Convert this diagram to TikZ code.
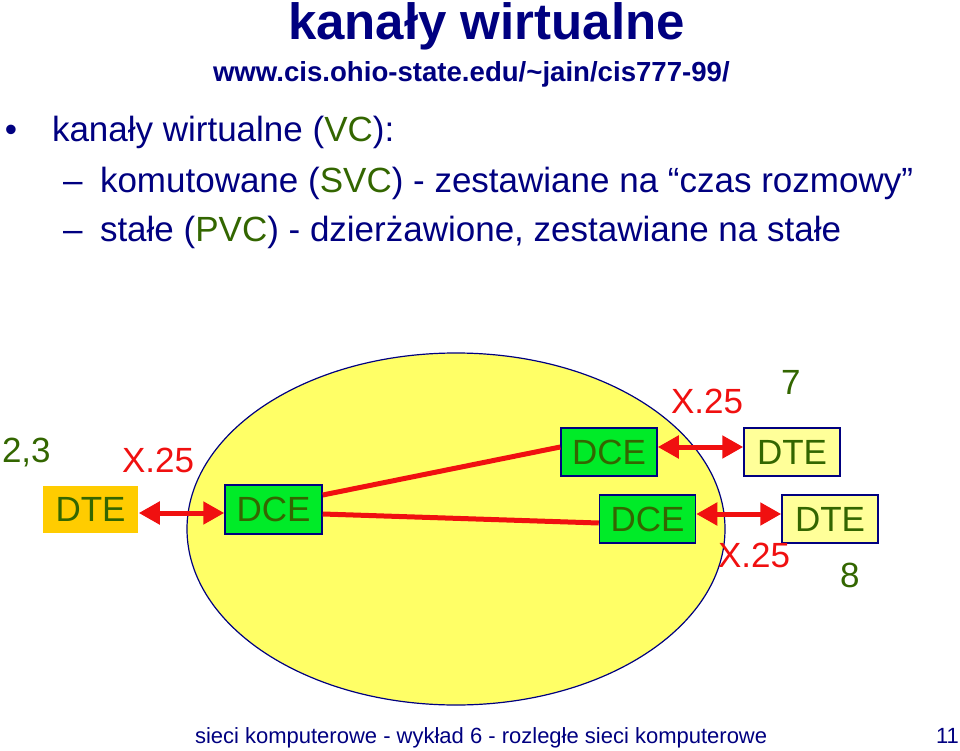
\documentclass[tikz,border=0pt]{standalone}
\usepackage{fontspec}
\setmainfont{Liberation Sans}
\usetikzlibrary{arrows.meta,shapes.geometric}
\definecolor{navy}{RGB}{0,0,128}
\definecolor{dkgreen}{RGB}{51,102,0}
\definecolor{xred}{RGB}{240,16,16}
\definecolor{boxgreen}{RGB}{0,235,40}
\definecolor{paleyellow}{RGB}{255,255,153}
\definecolor{orangeyellow}{RGB}{255,204,0}
\definecolor{ellyellow}{RGB}{255,255,102}
\newcommand\fsz[1]{\fontsize{#1}{#1}\selectfont}
\begin{document}
\begin{tikzpicture}[x=1pt,y=-1pt,
  txt/.style={anchor=base west, inner sep=0, outer sep=0, text=navy},
  box/.style={draw=navy, line width=1.5pt, minimum width=96pt, minimum height=48pt, inner sep=0, text=dkgreen, font=\fsz{35}},
  dcebox/.style={box, fill=boxgreen},
  dtebox/.style={box, fill=paleyellow},
  link/.style={xred, line width=5pt},
  biarrow/.style={link, {Triangle[length=21pt,width=22pt]}-{Triangle[length=21pt,width=22pt]}},
  lbl/.style={anchor=base west, inner sep=0, outer sep=0, font=\fsz{35}}
]
\useasboundingbox (0,0) rectangle (960,751);
% headings
\node[txt, font=\bfseries\fsz{51}] (title) at (288,40) {kanały wirtualne};
\node[txt, font=\bfseries\fsz{27.6}] (url) at (213,82) {www.cis.ohio-state.edu/\textasciitilde jain/cis777-99/};
% bullets
\node[txt, font=\fsz{35}] (b1) at (5,142) {•};
\node[txt, font=\fsz{35}] (l1) at (52,142) {kanały wirtualne (\textcolor{dkgreen}{VC}):};
\node[txt, font=\fsz{35}] (d2) at (63,193) {–};
\node[txt, font=\fsz{35}] (l2) at (100,193) {komutowane (\textcolor{dkgreen}{SVC}) - zestawiane na “czas rozmowy”};
\node[txt, font=\fsz{35}] (d3) at (63,241) {–};
\node[txt, font=\fsz{35}] (l3) at (100,241) {stałe (\textcolor{dkgreen}{PVC}) - dzierżawione, zestawiane na stałe};
% network cloud
\node[ellipse, draw=navy, line width=1.2pt, fill=ellyellow, minimum width=538pt, minimum height=352pt, inner sep=0] (cloud) at (456,529) {};
% boxes
\node[box, draw=none, fill=orangeyellow, minimum width=95pt, minimum height=47pt] (dtel) at (90.5,509.5) {DTE};
\node[dcebox, minimum width=97pt, minimum height=49pt] (dcel) at (273.5,509.5) {DCE};
\node[dcebox] (dceu) at (609,452) {DCE};
\node[dtebox] (dteu) at (792,452) {DTE};
\node[dcebox] (dced) at (647.5,519) {DCE};
\node[dtebox] (dted) at (830,519) {DTE};
% links
\draw[link] ([yshift=14.5pt]dcel.east) -- ([yshift=5pt]dceu.west);
\draw[link] ([yshift=-4.5pt]dcel.east) -- ([yshift=-4pt]dced.west);
\draw[biarrow] ([yshift=-3.5pt]dtel.east) -- ([yshift=-3.5pt]dcel.west);
\draw[biarrow] ([yshift=5pt]dceu.east) -- ([yshift=5pt]dteu.west);
\draw[biarrow] ([yshift=5pt]dced.east) -- ([yshift=5pt]dted.west);
% labels
\node[lbl, text=dkgreen] (n23) at (2,462) {2,3};
\node[lbl, text=xred] (xl) at (122,472) {X.25};
\node[lbl, text=xred] (xu) at (671,413) {X.25};
\node[lbl, text=dkgreen] (n7) at (781,394) {7};
\node[lbl, text=xred] (xd) at (718,567) {X.25};
\node[lbl, text=dkgreen] (n8) at (840,587) {8};
% footer
\node[txt, font=\fsz{22}] (foot) at (195,743) {sieci komputerowe - wykład 6 - rozległe sieci komputerowe};
\node[txt, font=\fsz{22}] (page) at (936,743) {11};
\end{tikzpicture}
\end{document}
